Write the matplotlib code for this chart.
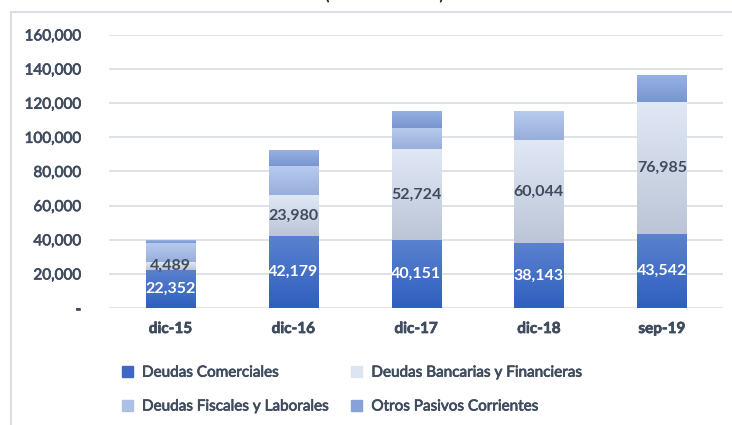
import numpy as np
import matplotlib
matplotlib.use("Agg")
import matplotlib.pyplot as plt
import matplotlib.patheffects as pe
from matplotlib.colors import LinearSegmentedColormap
from matplotlib.patches import Rectangle
from matplotlib.ticker import FuncFormatter

plt.rcParams['font.family'] = ['Lato', 'DejaVu Sans']

# data (miles de Bs.)
categories = ["dic-15", "dic-16", "dic-17", "dic-18", "sep-19"]
comerciales = [22352, 42179, 40151, 38143, 43542]
bancarias = [4489, 23980, 52724, 60044, 76985]
fiscales = [11400, 17200, 12300, 17000, 0]
otros = [1400, 9300, 10200, 300, 15700]

series_names = ["Deudas Comerciales", "Deudas Bancarias y Financieras",
                "Deudas Fiscales y Laborales", "Otros Pasivos Corrientes"]
# (bottom colour, top colour) for the gradient fill
grads = [("#2f5fbf", "#5b82cf"),
         ("#bcc5d6", "#e0e8f6"),
         ("#97aedb", "#b9cbef"),
         ("#7795cf", "#98b1e3")]
legend_cols = ["#3d68c4", "#dde5f3", "#adc0e6", "#86a2d8"]

text_col = "#3f4b5e"
thick = [pe.withStroke(linewidth=0.5, foreground=text_col)]

fig = plt.figure(figsize=(7.32, 4.25), dpi=100)
ax = fig.add_axes([0.149, 0.275, 0.839, 0.643])

x = np.arange(len(categories))
width = 0.4
bottom = np.zeros(len(categories))
grad = np.linspace(0, 1, 100).reshape(-1, 1)

for vals, (c0, c1) in zip([comerciales, bancarias, fiscales, otros], grads):
    cmap = LinearSegmentedColormap.from_list("g", [c0, c1])
    bars = ax.bar(x, vals, width, bottom=bottom, color="none", edgecolor="none")
    for b in bars:
        if b.get_height() <= 0:
            continue
        x0, y0 = b.get_x(), b.get_y()
        im = ax.imshow(grad, cmap=cmap, origin="lower", aspect="auto",
                       extent=[x0, x0 + b.get_width(), y0, y0 + b.get_height()],
                       zorder=2)
        im.set_clip_path(b)
    bottom += np.array(vals)

# data labels
for i in range(len(categories)):
    ax.text(x[i], comerciales[i] / 2, f"{comerciales[i]:,}", ha="center", va="center",
            color="white", fontsize=11.5, fontweight="bold", zorder=4)
    ax.text(x[i], comerciales[i] + bancarias[i] / 2, f"{bancarias[i]:,}", ha="center",
            va="center", color=text_col, fontsize=11.5, fontweight="bold", zorder=4)

ax.set_xlim(-0.5, len(categories) - 0.5)
ax.set_ylim(0, 160000)
ax.set_yticks(np.arange(0, 160001, 20000))
ax.yaxis.set_major_formatter(FuncFormatter(lambda v, p: "-" if v == 0 else f"{int(v):,}"))
ax.set_xticks(x)
ax.set_xticklabels(categories)
ax.tick_params(axis="both", length=0, colors=text_col, labelsize=11)
ax.tick_params(axis="y", pad=20)
ax.tick_params(axis="x", pad=10)
for t in ax.get_yticklabels():
    t.set_path_effects(thick)
for t in ax.get_xticklabels():
    t.set_fontweight("bold")
    t.set_path_effects(thick)
ax.grid(axis="y", color="#d9dde3", linewidth=1.2, zorder=0)
ax.set_axisbelow(True)
for s in ax.spines.values():
    s.set_visible(False)

# chart frame (runs off right/bottom edge)
fig.patches.append(Rectangle((0.015, -0.05), 1.1, 1.022, transform=fig.transFigure,
                             fill=False, edgecolor="#d9dde3", linewidth=1.5))

# title, cut off at the top as in the source
fig.text(0.525, 1.012, "(En miles de Bs.)", ha="center", va="center",
         fontsize=12, fontweight="bold", color="#222222")

# legend: row 1 Comerciales/Bancarias, row 2 Fiscales/Otros
order = [0, 2, 1, 3]
handles = [Rectangle((0, 0), 1, 1, color=legend_cols[k]) for k in order]
labels = [series_names[k] for k in order]
leg = fig.legend(handles, labels, loc="upper left", bbox_to_anchor=(0.148, 0.172),
                 ncol=2, frameon=False, fontsize=11, handlelength=0.7, handleheight=0.7,
                 columnspacing=1.5, labelspacing=1.3, handletextpad=0.6,
                 labelcolor=text_col)
for t in leg.get_texts():
    t.set_path_effects(thick)

fig.savefig("out.png", dpi=100)
